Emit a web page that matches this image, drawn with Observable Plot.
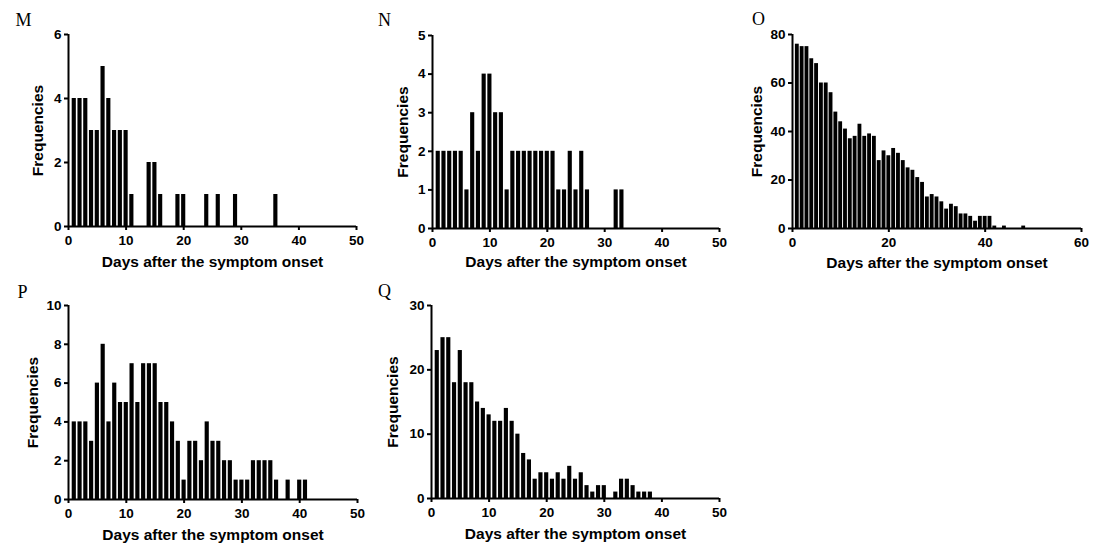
<!DOCTYPE html>
<html><head><meta charset="utf-8">
<script src="https://cdn.jsdelivr.net/npm/d3@7"></script>
<script src="https://cdn.jsdelivr.net/npm/@observablehq/plot@0.6"></script>
<style>
body{margin:0;background:#fff;}
#wrap{position:relative;width:1095px;height:547px;background:#fff;}
.panel{position:absolute;}
</style></head><body><div id="wrap"></div>
<script>
// ---- Data ----
const xTitle = "Days after the symptom onset";
const yTitle = "Frequencies";

const daysM = [1,2,3,4,5,6,7,8,9,10,11,14,15,16,19,20,24,26,29,36];
const freqM = [4,4,4,3,3,5,4,3,3,3,1,2,2,1,1,1,1,1,1,1];

const daysN = [1,2,3,4,5,6,7,8,9,10,11,12,13,14,15,16,17,18,19,20,21,22,23,24,25,26,27,32,33];
const freqN = [2,2,2,2,2,1,3,2,4,4,3,3,1,2,2,2,2,2,2,2,2,1,1,2,1,2,1,1,1];

const daysO = [1,2,3,4,5,6,7,8,9,10,11,12,13,14,15,16,17,18,19,20,21,22,23,24,25,26,27,28,29,30,31,32,33,34,35,36,37,38,39,40,41,42,44,48];
const freqO = [76,75,75,70,68,60,60,56,48,44,41,37,38,43,38,39,38,28,32,30,33,31,28,25,24,21,19,13,14,13,11,8,10,9,6,6,5,3,5,5,5,1,1,1];

const daysP = [1,2,3,4,5,6,7,8,9,10,11,12,13,14,15,16,17,18,19,20,21,22,23,24,25,26,27,28,29,30,31,32,33,34,35,36,38,40,41];
const freqP = [4,4,4,3,6,8,4,6,5,5,7,5,7,7,7,5,5,4,3,1,3,3,2,4,3,3,2,2,1,1,1,2,2,2,2,1,1,1,1];

const daysQ = [1,2,3,4,5,6,7,8,9,10,11,12,13,14,15,16,17,18,19,20,21,22,23,24,25,26,27,28,29,30,32,33,34,35,36,37,38];
const freqQ = [23,25,25,18,23,18,18,15,14,13,12,12,14,12,10,7,6,3,4,4,3,4,3,5,3,4,2,1,2,2,1,3,3,2,1,1,1];

const ticksX50 = [0,10,20,30,40,50];
const ticksX60 = [0,20,40,60];
const ticksYM = [0,2,4,6];
const ticksYN = [0,1,2,3,4,5];
const ticksYO = [0,20,40,60,80];
const ticksYP = [0,2,4,6,8,10];
const ticksYQ = [0,10,20,30];

const panels = [
  {letter:"M", days:daysM, freq:freqM, xTicks:ticksX50, yTicks:ticksYM, left:0,   top:0,   width:365, height:270, ml:68, mr:9,  mt:34, mb:44, bw:0.72, ylabDx:-30, lx:-45, ly:-14, tdy:36},
  {letter:"N", days:daysN, freq:freqN, xTicks:ticksX50, yTicks:ticksYN, left:365, top:0,   width:365, height:270, ml:67, mr:11, mt:35, mb:42, bw:0.72, ylabDx:-29, lx:-48, ly:-15, tdy:34},
  {letter:"O", days:daysO, freq:freqO, xTicks:ticksX60, yTicks:ticksYO, left:730, top:0,   width:365, height:270, ml:62, mr:14, mt:34, mb:42, bw:0.8,  ylabDx:-35, lx:-34, ly:-15, tdy:35},
  {letter:"P", days:daysP, freq:freqP, xTicks:ticksX50, yTicks:ticksYP, left:0,   top:270, width:365, height:277, ml:68, mr:8,  mt:35, mb:48, bw:0.72, ylabDx:-35, lx:-46, ly:-13, tdy:36},
  {letter:"Q", days:daysQ, freq:freqQ, xTicks:ticksX50, yTicks:ticksYQ, left:365, top:270, width:365, height:277, ml:66, mr:11, mt:35, mb:49, bw:0.72, ylabDx:-38, lx:-47, ly:-14, tdy:36}
];

const wrap = document.getElementById("wrap");
const sans = "'Liberation Sans', Arial, sans-serif";

for (const p of panels) {
  const data = p.days.map((d, i) => ({day: d, freq: p.freq[i]}));
  const xMax = p.xTicks[p.xTicks.length - 1];
  const yMax = p.yTicks[p.yTicks.length - 1];
  const chart = Plot.plot({
    width: p.width, height: p.height,
    marginLeft: p.ml, marginRight: p.mr, marginTop: p.mt, marginBottom: p.mb,
    style: {fontFamily: sans, fontSize: "13.5px", fontWeight: "bold", color: "black", background: "transparent", overflow: "visible"},
    x: {domain: [0, xMax]},
    y: {domain: [0, yMax]},
    marks: [
      Plot.rect(data, {x1: d => d.day - p.bw / 2, x2: d => d.day + p.bw / 2, y1: 0, y2: "freq", fill: "black"}),
      Plot.axisX({ticks: p.xTicks, tickSize: 4, tickPadding: 5, strokeWidth: 2, label: null, fontSize: 13.5, fontWeight: "bold", tickFormat: d => String(d)}),
      Plot.axisY({ticks: p.yTicks, tickSize: 4, tickPadding: 3, strokeWidth: 2, label: null, fontSize: 13.5, fontWeight: "bold", tickFormat: d => String(d)}),
      Plot.ruleY([0], {x1: 0, x2: xMax, strokeWidth: 2}),
      Plot.ruleX([0], {y1: 0, y2: yMax, strokeWidth: 2}),
      Plot.text([xTitle], {frameAnchor: "bottom", textAnchor: "middle", lineAnchor: "middle", dy: p.tdy, fontSize: 15.5, fontWeight: "bold", fontFamily: sans}),
      Plot.text([yTitle], {frameAnchor: "left", textAnchor: "middle", lineAnchor: "middle", rotate: -90, dx: p.ylabDx, fontSize: 15.5, fontWeight: "bold", fontFamily: sans}),
      Plot.text([p.letter], {frameAnchor: "top-left", textAnchor: "middle", lineAnchor: "middle", dx: p.lx, dy: p.ly, fontSize: 18, fontWeight: "normal", fontFamily: "'Liberation Serif', 'Times New Roman', serif"})
    ]
  });
  chart.classList.add("panel");
  chart.style.left = p.left + "px";
  chart.style.top = p.top + "px";
  wrap.appendChild(chart);
}
</script>
</body></html>
